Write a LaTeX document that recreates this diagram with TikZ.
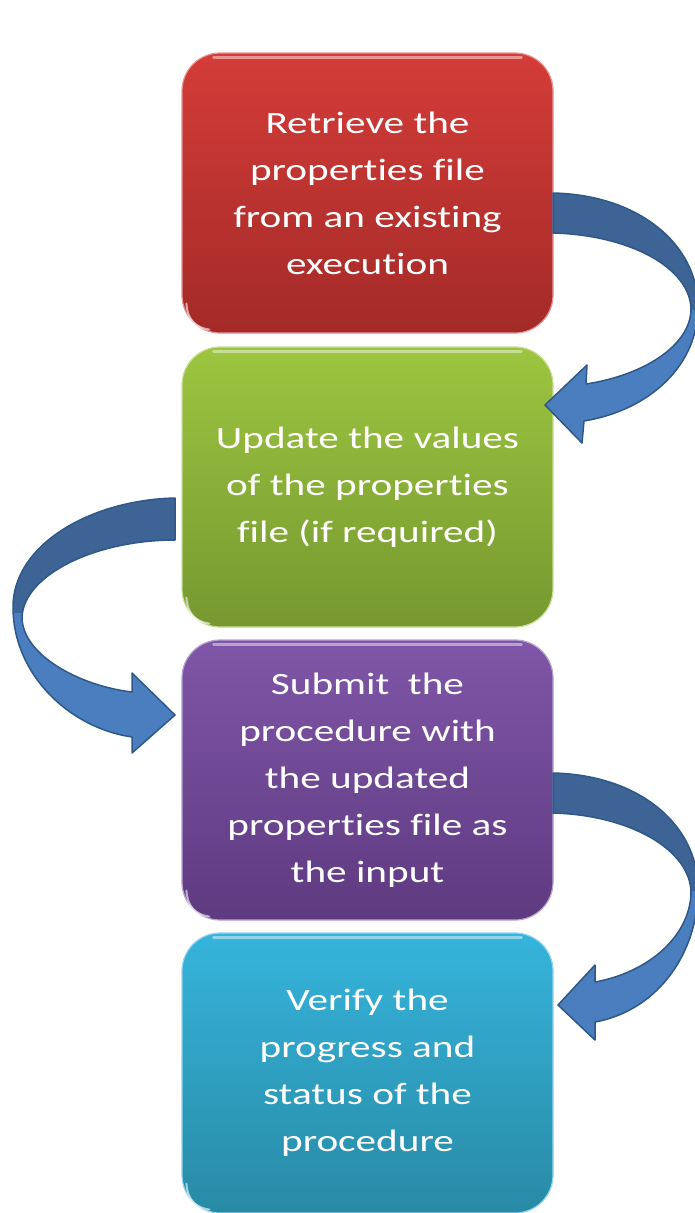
\documentclass[tikz,border=0pt]{standalone}
\usepackage{fontspec}
\newfontfamily\boxfont[FakeStretch=1.33,Ligatures=NoCommon]{Carlito}
\usetikzlibrary{calc}
\definecolor{redT}{RGB}{212,60,56}
\definecolor{redB}{RGB}{163,42,40}
\definecolor{grnT}{RGB}{157,197,64}
\definecolor{grnB}{RGB}{118,152,48}
\definecolor{purT}{RGB}{128,86,168}
\definecolor{purB}{RGB}{94,58,128}
\definecolor{cyaT}{RGB}{54,180,220}
\definecolor{cyaB}{RGB}{40,138,165}
\definecolor{arrD}{RGB}{62,100,150}
\definecolor{arrL}{RGB}{74,126,190}
\definecolor{arrE}{RGB}{46,88,136}
\tikzset{
  stepbox/.style={rounded corners=38pt, minimum width=371pt, minimum height=280pt,
    inner sep=0pt, align=center, text=white, line width=1.2pt,
    font=\boxfont\fontsize{31}{47}\selectfont},
  gloss/.style={white, opacity=.45, line width=2.5pt, line cap=round},
  arrowedge/.style={draw=arrE, line width=1.5pt, line join=round}
}
\def\pathA{(553,193) .. controls (640,195) and (697,245) .. (698,305)
  .. controls (699,365) and (650,410) .. (584,421) -- (582,443) -- (545,405)
  -- (587,365) -- (586,384) .. controls (645,375) and (690,345) .. (691,310)
  .. controls (691,268) and (630,235) .. (553,233) -- cycle}
\def\pathB{(175,498) .. controls (90,500) and (13,545) .. (13,607)
  .. controls (13,675) and (70,728) .. (132,737) -- (132,753) -- (175,715)
  -- (132,673) -- (132,692) .. controls (80,686) and (22,655) .. (22,617)
  .. controls (24,575) and (95,540) .. (175,540) -- cycle}
\def\pathC{(553,773) .. controls (640,775) and (697,825) .. (698,887)
  .. controls (699,950) and (660,1010) .. (595,1022) -- (595,1040) -- (558,1005)
  -- (595,965) -- (595,982) .. controls (650,972) and (690,935) .. (691,893)
  .. controls (691,850) and (630,815) .. (553,813) -- cycle}
\begin{document}
\begin{tikzpicture}[x=1pt,y=-1pt]
\useasboundingbox (0,0) rectangle (695,1213);
\fill[white] (0,0) rectangle (695,1213);

\node[stepbox, top color=redT, bottom color=redB, draw=redT!55!white] (r) at (367.5,193)
  {Retrieve the\\properties file\\from an existing\\execution};
\node[stepbox, top color=grnT, bottom color=grnB, draw=grnT!55!white] (g) at (367.5,487)
  {Update the values\\of the properties\\file (if required)};
\node[stepbox, top color=purT, bottom color=purB, draw=purT!55!white] (p) at (367.5,780)
  {Submit\ \ the\\procedure with\\the updated\\properties file as\\the input};
\node[stepbox, top color=cyaT, bottom color=cyaB, draw=cyaT!55!white] (c) at (367.5,1073)
  {Verify the\\progress and\\status of the\\procedure};

\foreach \n in {r,g,p,c}{
  \draw[gloss] ($(\n.north west)+(32,5)$) -- ($(\n.north east)+(-32,5)$);
  \draw[white, opacity=.6, line width=2pt, line cap=round]
    ($(\n.south west)+(5,-30)$) .. controls ($(\n.south west)+(6,-14)$) and ($(\n.south west)+(14,-6)$) .. ($(\n.south west)+(28,-4)$);
}

% arrow r -> g
\fill[arrL] \pathA;
\begin{scope}\clip (540,150) rectangle (700,309); \fill[arrD] \pathA; \end{scope}
\draw[arrowedge] \pathA;
% arrow g -> p
\fill[arrL] \pathB;
\begin{scope}\clip (0,450) rectangle (200,612); \fill[arrD] \pathB; \end{scope}
\draw[arrowedge] \pathB;
% arrow p -> c
\fill[arrL] \pathC;
\begin{scope}\clip (540,740) rectangle (700,890); \fill[arrD] \pathC; \end{scope}
\draw[arrowedge] \pathC;
\end{tikzpicture}
\end{document}
